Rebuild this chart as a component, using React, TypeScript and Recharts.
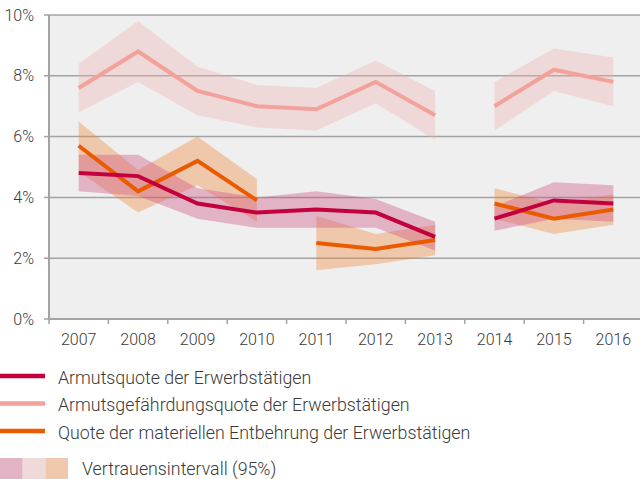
import React from "react";
import { Area, CartesianGrid, ComposedChart, Line, XAxis, YAxis } from "recharts";

const years = ["2007", "2008", "2009", "2010", "2011", "2012", "2013", "2014", "2015", "2016"];
const yTicks = [0, 2, 4, 6, 8, 10];

// Armutsquote der Erwerbstätigen
const armutsquote = [4.8, 4.7, 3.8, 3.5, 3.6, 3.5, 2.7, 3.3, 3.9, 3.8];
const armutsquoteLow = [4.2, 4.05, 3.3, 3.0, 3.0, 3.0, 2.25, 2.9, 3.3, 3.2];
const armutsquoteHigh = [5.4, 5.4, 4.3, 4.0, 4.2, 3.95, 3.2, 3.7, 4.5, 4.4];
const armutsquoteSegments = [[0, 6], [7, 9]];

// Armutsgefährdungsquote der Erwerbstätigen
const gefaehrdung = [7.6, 8.8, 7.5, 7.0, 6.9, 7.8, 6.7, 7.0, 8.2, 7.8];
const gefaehrdungLow = [6.8, 7.8, 6.7, 6.3, 6.2, 7.1, 5.9, 6.2, 7.5, 7.0];
const gefaehrdungHigh = [8.4, 9.8, 8.3, 7.7, 7.6, 8.5, 7.5, 7.8, 8.9, 8.6];
const gefaehrdungSegments = [[0, 6], [7, 9]];

// Quote der materiellen Entbehrung der Erwerbstätigen
const entbehrung = [5.7, 4.2, 5.2, 3.9, 2.5, 2.3, 2.6, 3.8, 3.3, 3.6];
const entbehrungLow = [4.85, 3.5, 4.4, 3.2, 1.6, 1.8, 2.1, 3.3, 2.8, 3.1];
const entbehrungHigh = [6.5, 4.9, 6.0, 4.6, 3.4, 2.8, 3.1, 4.3, 3.8, 4.1];
const entbehrungSegments = [[0, 3], [4, 6], [7, 9]];

const series = [
  { key: "gef", name: "Armutsgefährdungsquote der Erwerbstätigen", values: gefaehrdung, low: gefaehrdungLow, high: gefaehrdungHigh, segments: gefaehrdungSegments, color: "#f3a19b", band: "#f2b0b0", patch: "#f0d9d9" },
  { key: "ent", name: "Quote der materiellen Entbehrung der Erwerbstätigen", values: entbehrung, low: entbehrungLow, high: entbehrungHigh, segments: entbehrungSegments, color: "#ea5b00", band: "#f28032", patch: "#f0c8ad" },
  { key: "arm", name: "Armutsquote der Erwerbstätigen", values: armutsquote, low: armutsquoteLow, high: armutsquoteHigh, segments: armutsquoteSegments, color: "#c2003e", band: "#ca4477", patch: "#e2b3c5" },
];

const data = years.map((year, i) => {
  const row: Record<string, any> = { year };
  series.forEach((s) => {
    s.segments.forEach(([a, b], k) => {
      const inside = i >= a && i <= b;
      row[`${s.key}${k}`] = inside ? s.values[i] : null;
      row[`${s.key}${k}r`] = inside ? [s.low[i], s.high[i]] : null;
    });
  });
  return row;
});

const CHART_W = 643;
const CHART_H = 360;
const Y_W = 49;
const BAND = (CHART_W - Y_W) / years.length;
const AXIS = "#a3a3a3";
const TEXT = "#3a3a3a";
const FONT = "Roboto, 'Noto Sans', sans-serif";

const XTick = (props: any) => {
  const { x, y, payload, index } = props;
  return (
    <g>
      <line x1={x - BAND / 2} x2={x - BAND / 2} y1={y} y2={y + 5} stroke={AXIS} strokeWidth={1.5} />
      {index === years.length - 1 && (
        <line x1={x + BAND / 2} x2={x + BAND / 2} y1={y} y2={y + 5} stroke={AXIS} strokeWidth={1.5} />
      )}
      <text x={x} y={y + 26} textAnchor="middle" fill={TEXT} fontSize={16} fontWeight={300} fontFamily={FONT}>
        {payload.value}
      </text>
    </g>
  );
};

const legendLines = [series[2], series[0], series[1]];

export default function App() {
  return (
    <div
      style={{
        position: "absolute",
        left: 0,
        top: 0,
        width: 640,
        height: 479,
        overflow: "hidden",
        background: "#fff",
        fontFamily: FONT,
      }}
    >
      <ComposedChart width={CHART_W} height={CHART_H} data={data} margin={{ top: 15, right: 0, left: 0, bottom: 5 }}>
        <CartesianGrid vertical={false} fill="#efefef" stroke={AXIS} strokeWidth={1.5} />
        <XAxis
          dataKey="year"
          scale="band"
          height={36}
          tickSize={0}
          tickMargin={0}
          tick={<XTick />}
          axisLine={{ stroke: AXIS, strokeWidth: 2 }}
          interval={0}
        />
        <YAxis
          domain={[0, 10]}
          ticks={yTicks}
          width={Y_W}
          tickSize={5}
          tickMargin={10}
          tickFormatter={(v) => `${v}%`}
          tick={{ fill: TEXT, fontSize: 16, fontWeight: 300, fontFamily: FONT }}
          tickLine={{ stroke: AXIS, strokeWidth: 1.5 }}
          axisLine={{ stroke: AXIS, strokeWidth: 2 }}
        />
        {series.map((s) =>
          s.segments.map((_, k) => (
            <Area
              key={`${s.key}${k}r`}
              dataKey={`${s.key}${k}r`}
              type="linear"
              stroke="none"
              fill={s.band}
              fillOpacity={0.35}
              isAnimationActive={false}
              activeDot={false}
            />
          ))
        )}
        {series.map((s) =>
          s.segments.map((_, k) => (
            <Line
              key={`${s.key}${k}`}
              dataKey={`${s.key}${k}`}
              type="linear"
              stroke={s.color}
              strokeWidth={4}
              dot={false}
              activeDot={false}
              isAnimationActive={false}
            />
          ))
        )}
      </ComposedChart>
      <svg width={640} height={119} style={{ position: "absolute", left: 0, top: CHART_H }}>
        {legendLines.map((s, i) => (
          <g key={s.key}>
            <line x1={0} x2={45} y1={16 + i * 27.5} y2={16 + i * 27.5} stroke={s.color} strokeWidth={4.5} />
            <text x={58} y={23.5 + i * 27.8} fill={TEXT} fontSize={17.8} fontWeight={300} fontFamily={FONT}>
              {s.name}
            </text>
          </g>
        ))}
        {[series[2], series[0], series[1]].map((s, i) => (
          <rect key={s.key} x={i * 22.7} y={98} width={22.7} height={21} fill={s.patch} />
        ))}
        <text x={82} y={115} fill={TEXT} fontSize={17.8} fontWeight={300} fontFamily={FONT}>
          Vertrauensintervall (95%)
        </text>
      </svg>
    </div>
  );
}
